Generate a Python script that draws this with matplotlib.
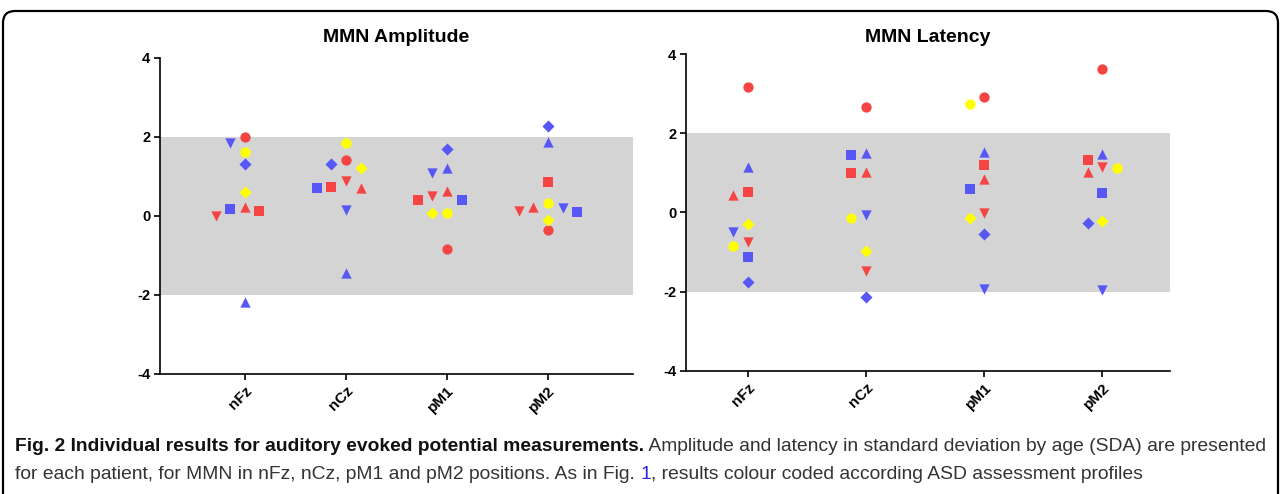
import matplotlib
matplotlib.use('Agg')
import matplotlib.pyplot as plt
from matplotlib.patches import FancyBboxPatch

plt.rcParams['font.family'] = ['Liberation Sans', 'DejaVu Sans']

# channels along x
sites = ['nFz', 'nCz', 'pM1', 'pM2']

# one entry per patient: colour group and marker
pat_colors = ['red', 'red', 'red', 'red', 'blue', 'blue', 'blue', 'blue', 'yellow', 'yellow']
pat_markers = ['o', 's', '^', 'v', '^', 'v', 's', 'D', 'o', 'D']

# MMN amplitude (SDA) per patient, order nFz, nCz, pM1, pM2
amplitude = [
    [2.00, 1.42, -0.84, -0.37],
    [0.13, 0.72, 0.40, 0.86],
    [0.21, 0.71, 0.63, 0.23],
    [0.00, 0.88, 0.50, 0.12],
    [-2.18, -1.46, 1.22, 1.86],
    [1.83, 0.14, 1.09, 0.20],
    [0.16, 0.70, 0.41, 0.09],
    [1.30, 1.32, 1.69, 2.26],
    [1.61, 1.83, 0.08, 0.32],
    [0.61, 1.20, 0.08, -0.10],
]

# MMN latency (SDA)
latency = [
    [3.18, 2.67, 2.92, 3.62],
    [0.52, 0.99, 1.19, 1.33],
    [0.44, 1.03, 0.85, 1.02],
    [-0.74, -1.49, -0.02, 1.16],
    [1.16, 1.49, 1.54, 1.47],
    [-0.50, -0.06, -1.94, -1.96],
    [-1.13, 1.44, 0.59, 0.48],
    [-1.76, -2.13, -0.54, -0.27],
    [-0.84, -0.13, 2.74, 1.12],
    [-0.28, -0.96, -0.15, -0.21],
]

cmap = {'red': '#f54444', 'blue': '#5757f5', 'yellow': '#ffff00'}
msize = {'o': 55, 's': 55, '^': 55, 'v': 55, 'D': 38}


def swarm_offsets(ys, px_per_y, step=7.3, gap=10.5):
    """simple beeswarm: spread colliding points sideways, in pixels"""
    order = sorted(range(len(ys)), key=lambda i: -ys[i])
    placed = {}
    for i in order:
        for k in [0, -1, 1, -2, 2, -3, 3, -4, 4]:
            dx = k * step
            ok = True
            for j, pdx in placed.items():
                if abs((ys[i] - ys[j]) * px_per_y) < gap and abs(dx - pdx) < 2 * step - 0.5:
                    ok = False
                    break
            if ok:
                placed[i] = dx
                break
    return [placed[i] for i in range(len(ys))]


def draw_panel(ax, data, title, xlim):
    ax.set_xlim(*xlim)
    ax.set_ylim(-4, 4)
    ax.axhspan(-2, 2, color='#d4d4d4', zorder=0, lw=0)
    bb = ax.get_position()
    fig_w, fig_h = ax.figure.get_size_inches() * ax.figure.dpi
    px_per_x = bb.width * fig_w / (xlim[1] - xlim[0])
    px_per_y = bb.height * fig_h / 8.0
    for c in range(len(sites)):
        ys = [row[c] for row in data]
        offs = swarm_offsets(ys, px_per_y)
        for p in range(len(ys)):
            ax.scatter(c + 1 + offs[p] / px_per_x, ys[p], s=msize[pat_markers[p]],
                       marker=pat_markers[p], color=cmap[pat_colors[p]],
                       linewidths=0, zorder=3, clip_on=False)
    # both titles sit on the same line
    ax.figure.text(bb.x0 + bb.width / 2, 1 - 38 / 494, title, fontsize=14,
                   fontweight='bold', ha='center', va='center')
    ax.set_xticks(range(1, len(sites) + 1))
    ax.set_xticklabels(sites, rotation=45, ha='right', rotation_mode='anchor',
                       fontweight='bold', fontsize=11)
    ax.set_yticks([-4, -2, 0, 2, 4])
    ax.set_yticklabels(['-4', '-2', '0', '2', '4'], fontweight='bold', fontsize=10.5)
    ax.tick_params(length=4, width=1.2, pad=3)
    for s in ['top', 'right']:
        ax.spines[s].set_visible(False)
    for s in ['left', 'bottom']:
        ax.spines[s].set_linewidth(1.2)


fig = plt.figure(figsize=(12.81, 4.94), dpi=100)
ax1 = fig.add_axes([0.1249, 0.2435, 0.3692, 0.6397])
ax2 = fig.add_axes([0.5355, 0.2492, 0.3778, 0.6413])
draw_panel(ax1, amplitude, 'MMN Amplitude', (0.16, 4.84))
draw_panel(ax2, latency, 'MMN Latency', (0.48, 4.57))

# frame round the figure
box = FancyBboxPatch((0.03, -0.3), 12.75, 4.83 + 0.3,
                     boxstyle='round,pad=0,rounding_size=0.12',
                     transform=fig.dpi_scale_trans, fill=False,
                     edgecolor='black', linewidth=1.6)
fig.patches.append(box)

# caption, drawn piece by piece
cap_font = ['Liberation Sans', 'DejaVu Sans']
cap_size = 13.9
renderer = fig.canvas.get_renderer()


def caption_line(pieces, x_px, y_px):
    x = x_px
    for txt, weight, col in pieces:
        t = fig.text(x / 1281, 1 - y_px / 494, txt, family=cap_font, fontsize=cap_size,
                     fontweight=weight, color=col, va='baseline', ha='left')
        x += t.get_window_extent(renderer).width


caption_line([('Fig. 2 Individual results for auditory evoked potential measurements.', 'bold', '#111111'),
              (' Amplitude and latency in standard deviation by age (SDA) are presented', 'normal', '#333333')],
             15, 451)
caption_line([('for each patient, for MMN in nFz, nCz, pM1 and pM2 positions. As in Fig. ', 'normal', '#333333'),
              ('1', 'normal', '#2a2ad8'),
              (', results colour coded according ASD assessment profiles', 'normal', '#333333')],
             15, 479)

fig.savefig('out.png', dpi=100)
